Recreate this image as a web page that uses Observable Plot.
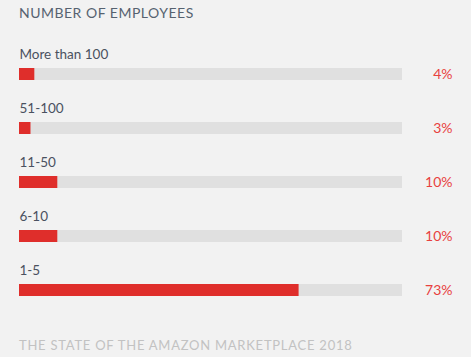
<!DOCTYPE html>
<html>
<head>
<meta charset="utf-8">
<script src="https://cdn.jsdelivr.net/npm/d3@7"></script>
<script src="https://cdn.jsdelivr.net/npm/@observablehq/plot@0.6"></script>
<style>
  html, body { margin: 0; padding: 0; background: #f2f2f2; width: 471px; height: 357px; overflow: hidden; }
  body { font-family: Lato, "Open Sans", sans-serif; }
  #title { height: 30px; box-sizing: border-box; padding: 5px 0 0 19px; font-size: 14px; letter-spacing: 0.5px; color: #566270; line-height: 16px; }
  #footer { padding: 0 0 0 19px; margin-top: 4px; font-size: 13px; letter-spacing: 0.75px; color: #c2c2c2; line-height: 16px; }
  svg { display: block; }
</style>
</head>
<body>
<div id="title">NUMBER OF EMPLOYEES</div>
<div id="chart"></div>
<div id="footer">THE STATE OF THE AMAZON MARKETPLACE 2018</div>
<script>
const categories = ["More than 100", "51-100", "11-50", "6-10", "1-5"];
const values = [4, 3, 10, 10, 73];
const valueLabels = ["4%", "3%", "10%", "10%", "73%"];

const data = categories.map((c, i) => ({ category: c, value: values[i], label: valueLabels[i], full: 100 }));

const chart = Plot.plot({
  width: 471,
  height: 303,
  marginLeft: 19,
  marginRight: 69,
  marginTop: 0,
  marginBottom: 0,
  style: { background: "transparent", fontFamily: "Lato, 'Open Sans', sans-serif" },
  x: { domain: [0, 100], axis: null },
  y: { domain: categories, range: [37, 267], paddingInner: 0.78, paddingOuter: 0, axis: null },
  marks: [
    Plot.barX(data, { y: "category", x1: 0, x2: "full", fill: "#e0e0e0" }),
    Plot.barX(data, { y: "category", x1: 0, x2: "value", fill: "#df2e2b" }),
    Plot.text(data, { y: "category", x: 0, text: "category", textAnchor: "start", dy: -20, fontSize: 13.5, fill: "#4a5160" }),
    Plot.text(data, { y: "category", frameAnchor: "right", text: "label", textAnchor: "end", dx: 50, fontSize: 14, fill: "#e8413f" })
  ]
});
document.getElementById("chart").appendChild(chart);
</script>
</body>
</html>
